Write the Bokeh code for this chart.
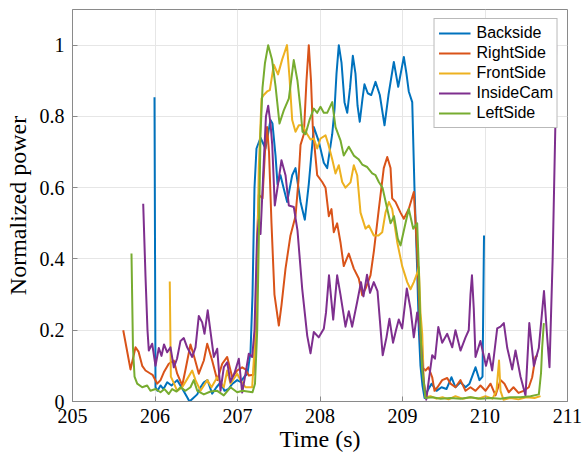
from bokeh.plotting import figure
from bokeh.models import FixedTicker, CustomJSTickFormatter
from bokeh.embed import file_html
from bokeh.resources import INLINE

x_ticks = [205, 206, 207, 208, 209, 210, 211]
y_ticks = [0, 0.2, 0.4, 0.6, 0.8, 1]
series_names = ["Backside", "RightSide", "FrontSide", "InsideCam", "LeftSide"]
series_colors = ["#0072BD", "#D95319", "#EDB120", "#7E2F8E", "#77AC30"]

backside_t = [205.994, 206.006, 206.030, 206.067, 206.103, 206.148, 206.200, 206.269, 206.321, 206.390,
              206.418, 206.455, 206.512, 206.552, 206.592, 206.636, 206.693, 206.745, 206.794, 206.842,
              206.891, 206.939, 206.996, 207.036, 207.085, 207.121, 207.158, 207.182, 207.206, 207.230,
              207.279, 207.339, 207.400, 207.424, 207.461, 207.485, 207.521, 207.558, 207.602, 207.663,
              207.703, 207.764, 207.816, 207.864, 207.925, 207.985, 208.046, 208.087, 208.148, 208.176,
              208.200, 208.228, 208.261, 208.297, 208.330, 208.364, 208.398, 208.430, 208.455, 208.482,
              208.515, 208.539, 208.579, 208.621, 208.673, 208.725, 208.782, 208.830, 208.895, 208.948,
              209.016, 209.048, 209.076, 209.118, 209.145, 209.178, 209.198, 209.218, 209.242, 209.267,
              209.303, 209.352, 209.412, 209.473, 209.533, 209.594, 209.642, 209.703, 209.764, 209.812,
              209.885, 209.933, 209.970, 209.988]
backside_p = [0.854, 0.04, 0.03, 0.045, 0.035, 0.054, 0.045, 0.06, 0.04, 0.012,
              0.0, 0.008, 0.02, 0.04, 0.054, 0.06, 0.022, 0.04, 0.054, 0.03,
              0.035, 0.05, 0.06, 0.055, 0.07, 0.078, 0.14, 0.3, 0.6, 0.71,
              0.74, 0.71, 0.79, 0.78, 0.69, 0.61, 0.635, 0.6, 0.56, 0.635,
              0.655, 0.56, 0.51, 0.61, 0.77, 0.73, 0.67, 0.655, 0.75, 0.82,
              0.92, 1.0, 0.95, 0.84, 0.81, 0.88, 0.97, 0.92, 0.83, 0.785,
              0.85, 0.89, 0.865, 0.86, 0.897, 0.86, 0.775, 0.86, 0.953, 0.883,
              0.967, 0.92, 0.87, 0.84, 0.6, 0.37, 0.2, 0.1, 0.045, 0.01,
              0.03, 0.05, 0.03, 0.04, 0.035, 0.068, 0.04, 0.054, 0.04, 0.05,
              0.096, 0.06, 0.07, 0.466]

rightside_t = [205.615, 205.655, 205.703, 205.764, 205.800, 205.845, 205.885, 205.933, 205.970, 206.027,
               206.067, 206.107, 206.167, 206.228, 206.269, 206.330, 206.370, 206.430, 206.470, 206.531,
               206.592, 206.633, 206.693, 206.754, 206.815, 206.875, 206.936, 206.996, 207.057, 207.097,
               207.137, 207.194, 207.224, 207.239, 207.258, 207.303, 207.333, 207.358, 207.382, 207.412,
               207.448, 207.501, 207.533, 207.582, 207.642, 207.703, 207.739, 207.764, 207.804, 207.836,
               207.864, 207.891, 207.913, 207.966, 208.027, 208.067, 208.107, 208.139, 208.167, 208.208,
               208.248, 208.288, 208.349, 208.410, 208.470, 208.512, 208.552, 208.612, 208.652, 208.713,
               208.773, 208.815, 208.855, 208.875, 208.915, 208.976, 209.016, 209.076, 209.137, 209.178,
               209.218, 209.239, 209.279, 209.315, 209.360, 209.388, 209.424, 209.481, 209.542, 209.582,
               209.642, 209.703, 209.764, 209.824, 209.885, 209.945, 210.006, 210.067, 210.127, 210.188,
               210.236, 210.288, 210.345, 210.406, 210.467, 210.531, 210.572, 210.612, 210.636]
rightside_p = [0.2, 0.15, 0.09, 0.152, 0.14, 0.1, 0.087, 0.08, 0.075, 0.05,
               0.06, 0.082, 0.106, 0.115, 0.078, 0.045, 0.09, 0.16, 0.13, 0.078,
               0.115, 0.162, 0.115, 0.06, 0.106, 0.125, 0.068, 0.087, 0.096, 0.09,
               0.073, 0.075, 0.2, 0.47, 0.58, 0.57, 0.7, 0.77, 0.7, 0.5,
               0.3, 0.213, 0.27, 0.373, 0.466, 0.52, 0.62, 0.72, 0.75, 0.9,
               1.0, 0.9, 0.767, 0.635, 0.616, 0.6, 0.52, 0.54, 0.475, 0.5,
               0.447, 0.38, 0.415, 0.373, 0.345, 0.298, 0.317, 0.354, 0.42, 0.54,
               0.655, 0.686, 0.655, 0.57, 0.56, 0.53, 0.513, 0.54, 0.588, 0.42,
               0.185, 0.096, 0.087, 0.096, 0.068, 0.03, 0.04, 0.06, 0.066, 0.05,
               0.04, 0.06, 0.03, 0.04, 0.03, 0.045, 0.03, 0.05, 0.017, 0.06,
               0.05, 0.026, 0.04, 0.024, 0.03, 0.04, 0.068, 0.125, 0.13]

frontside_t = [206.179, 206.192, 206.212, 206.269, 206.330, 206.382, 206.451, 206.491, 206.552, 206.633,
               206.685, 206.754, 206.834, 206.875, 206.915, 206.996, 207.036, 207.097, 207.178, 207.206,
               207.239, 207.258, 207.291, 207.318, 207.359, 207.392, 207.440, 207.491, 207.542, 207.564,
               207.600, 207.630, 207.663, 207.703, 207.743, 207.785, 207.845, 207.885, 207.925, 207.966,
               208.006, 208.067, 208.103, 208.148, 208.188, 208.228, 208.269, 208.309, 208.370, 208.410,
               208.451, 208.491, 208.552, 208.592, 208.652, 208.709, 208.754, 208.794, 208.835, 208.875,
               208.936, 208.996, 209.057, 209.097, 209.137, 209.178, 209.198, 209.218, 209.239, 209.258,
               209.279, 209.339, 209.412, 209.485, 209.558, 209.642, 209.727, 209.824, 209.921, 210.006,
               210.091, 210.139, 210.170, 210.188, 210.224, 210.309, 210.406, 210.503, 210.600, 210.673]
frontside_p = [0.337, 0.07, 0.06, 0.03, 0.04, 0.06, 0.087, 0.06, 0.03, 0.06,
               0.04, 0.068, 0.04, 0.087, 0.05, 0.078, 0.06, 0.04, 0.04, 0.15,
               0.37, 0.655, 0.85, 0.86, 0.87, 0.874, 0.945, 0.918, 0.96, 0.975,
               1.0, 0.91, 0.79, 0.757, 0.775, 0.775, 0.75, 0.735, 0.738, 0.71,
               0.738, 0.747, 0.72, 0.68, 0.64, 0.663, 0.616, 0.6, 0.615, 0.663,
               0.635, 0.53, 0.485, 0.494, 0.466, 0.466, 0.475, 0.53, 0.56, 0.54,
               0.447, 0.38, 0.335, 0.315, 0.335, 0.36, 0.377, 0.25, 0.19, 0.06,
               0.012, 0.015, 0.008, 0.012, 0.006, 0.015, 0.008, 0.012, 0.008, 0.015,
               0.008, 0.03, 0.115, 0.03, 0.005, 0.01, 0.006, 0.012, 0.01, 0.015]

insidecam_t = [205.857, 205.885, 205.909, 205.925, 205.966, 206.006, 206.046, 206.079, 206.109, 206.148,
               206.188, 206.228, 206.267, 206.309, 206.349, 206.390, 206.451, 206.491, 206.531, 206.572,
               206.600, 206.639, 206.679, 206.713, 206.754, 206.794, 206.834, 206.875, 206.915, 206.964,
               207.016, 207.057, 207.097, 207.137, 207.178, 207.206, 207.236, 207.258, 207.279, 207.318,
               207.345, 207.372, 207.400, 207.421, 207.452, 207.485, 207.533, 207.582, 207.622, 207.682,
               207.727, 207.784, 207.845, 207.885, 207.925, 207.985, 208.046, 208.073, 208.109, 208.160,
               208.208, 208.248, 208.309, 208.349, 208.390, 208.451, 208.497, 208.527, 208.570, 208.606,
               208.652, 208.697, 208.760, 208.806, 208.842, 208.885, 208.921, 208.955, 208.996, 209.052,
               209.097, 209.137, 209.178, 209.212, 209.255, 209.288, 209.319, 209.360, 209.394, 209.434,
               209.481, 209.542, 209.603, 209.642, 209.703, 209.764, 209.803, 209.824, 209.842, 209.864,
               209.885, 209.945, 210.012, 210.048, 210.087, 210.148, 210.188, 210.228, 210.270, 210.330,
               210.370, 210.430, 210.491, 210.537, 210.592, 210.652, 210.715, 210.754, 210.782, 210.820,
               210.855, 210.862]
insidecam_p = [0.555, 0.35, 0.2, 0.143, 0.162, 0.1, 0.15, 0.128, 0.16, 0.138,
               0.152, 0.096, 0.12, 0.17, 0.178, 0.152, 0.125, 0.152, 0.24, 0.222,
               0.19, 0.256, 0.185, 0.125, 0.148, 0.03, 0.096, 0.11, 0.055, 0.08,
               0.12, 0.025, 0.078, 0.134, 0.125, 0.2, 0.45, 0.51, 0.47, 0.67,
               0.8, 0.83, 0.78, 0.72, 0.55, 0.6, 0.677, 0.635, 0.55, 0.546,
               0.48, 0.317, 0.185, 0.135, 0.195, 0.18, 0.204, 0.25, 0.354, 0.23,
               0.354, 0.3, 0.21, 0.253, 0.21, 0.28, 0.335, 0.295, 0.356, 0.305,
               0.335, 0.31, 0.13, 0.18, 0.232, 0.165, 0.2, 0.23, 0.205, 0.317,
               0.26, 0.18, 0.25, 0.2, 0.06, 0.005, 0.06, 0.13, 0.12, 0.209,
               0.165, 0.19, 0.152, 0.2, 0.143, 0.18, 0.2, 0.3, 0.354, 0.26,
               0.125, 0.17, 0.1, 0.134, 0.087, 0.205, 0.21, 0.22, 0.15, 0.09,
               0.143, 0.07, 0.017, 0.22, 0.1, 0.15, 0.31, 0.18, 0.096, 0.4,
               0.8, 1.0]

leftside_t = [205.715, 205.733, 205.752, 205.784, 205.845, 205.905, 205.945, 206.006, 206.067, 206.115,
              206.167, 206.208, 206.261, 206.309, 206.370, 206.430, 206.470, 206.512, 206.592, 206.673,
              206.754, 206.834, 206.915, 206.996, 207.061, 207.121, 207.182, 207.212, 207.239, 207.258,
              207.279, 207.303, 207.333, 207.372, 207.418, 207.461, 207.509, 207.561, 207.622, 207.682,
              207.727, 207.764, 207.788, 207.824, 207.873, 207.925, 207.966, 208.006, 208.046, 208.087,
              208.148, 208.188, 208.248, 208.288, 208.349, 208.410, 208.467, 208.512, 208.572, 208.633,
              208.673, 208.713, 208.758, 208.815, 208.855, 208.897, 208.943, 208.976, 209.036, 209.076,
              209.130, 209.178, 209.198, 209.218, 209.239, 209.279, 209.364, 209.461, 209.582, 209.703,
              209.824, 209.945, 210.067, 210.188, 210.309, 210.430, 210.552, 210.653, 210.679, 210.693,
              210.713]
leftside_p = [0.415, 0.15, 0.07, 0.05, 0.04, 0.045, 0.03, 0.035, 0.026, 0.035,
              0.021, 0.035, 0.028, 0.04, 0.03, 0.04, 0.06, 0.03, 0.02, 0.028,
              0.03, 0.017, 0.04, 0.026, 0.03, 0.028, 0.026, 0.05, 0.2, 0.45,
              0.75, 0.88, 0.95, 1.0, 0.96, 0.885, 0.78, 0.817, 0.85, 0.958,
              0.9, 0.82, 0.757, 0.75, 0.79, 0.822, 0.81, 0.827, 0.81, 0.81,
              0.84, 0.77, 0.733, 0.69, 0.715, 0.69, 0.68, 0.665, 0.658, 0.64,
              0.635, 0.616, 0.6, 0.54, 0.5, 0.52, 0.457, 0.438, 0.5, 0.54,
              0.485, 0.5, 0.373, 0.2, 0.09, 0.01, 0.012, 0.008, 0.01, 0.008,
              0.012, 0.008, 0.01, 0.008, 0.012, 0.012, 0.015, 0.02, 0.08, 0.152,
              0.22]

series_t = [backside_t, rightside_t, frontside_t, insidecam_t, leftside_t]
series_p = [backside_p, rightside_p, frontside_p, insidecam_p, leftside_p]

p = figure(width=582, height=455, x_range=(205, 211), y_range=(0, 1.1),
           output_backend="svg", toolbar_location=None,
           min_border_left=72, min_border_right=15, min_border_top=9, min_border_bottom=54)
p.background_fill_color = "white"
p.border_fill_color = "white"
p.outline_line_color = "#8a8a8a"

for t, v, name, col in zip(series_t, series_p, series_names, series_colors):
    p.line(t, v, line_color=col, line_width=2, line_join="round", legend_label=name)

axis_col = "#8a8a8a"
for ax in (p.xaxis[0], p.yaxis[0]):
    ax.major_tick_in = 5
    ax.major_tick_out = 0
    ax.minor_tick_line_color = None
    ax.axis_line_color = axis_col
    ax.major_tick_line_color = axis_col
    ax.major_label_text_font = "Liberation Serif"
    ax.major_label_text_font_size = "20px"
    ax.major_label_text_color = "black"
    ax.axis_label_text_font = "Liberation Serif"
    ax.axis_label_text_font_size = "24px"
    ax.axis_label_text_font_style = "normal"
    ax.axis_label_text_color = "black"

p.xaxis[0].ticker = FixedTicker(ticks=x_ticks)
p.yaxis[0].ticker = FixedTicker(ticks=y_ticks)
p.yaxis[0].formatter = CustomJSTickFormatter(code="return tick.toString();")
p.xaxis[0].axis_label = "Time (s)"
p.yaxis[0].axis_label = "Normalized power"
p.xaxis[0].major_label_standoff = 7
p.yaxis[0].major_label_standoff = 8
p.xaxis[0].axis_label_standoff = 0
p.yaxis[0].axis_label_standoff = 6

p.xgrid.grid_line_color = "#e6e6e6"
p.ygrid.grid_line_color = "#e6e6e6"
p.xgrid.ticker = FixedTicker(ticks=x_ticks)
p.ygrid.ticker = FixedTicker(ticks=y_ticks)

lg = p.legend[0]
lg.location = "top_right"
lg.margin = 9
lg.padding = 4
lg.spacing = 0
lg.label_height = 20
lg.glyph_height = 20
lg.glyph_width = 32
lg.label_standoff = 6
lg.label_text_font = "Liberation Sans"
lg.label_text_font_size = "16px"
lg.label_text_color = "black"
lg.border_line_color = "#737373"
lg.border_line_width = 1
lg.background_fill_alpha = 1.0

open("out.html", "w").write(file_html(p, INLINE))
